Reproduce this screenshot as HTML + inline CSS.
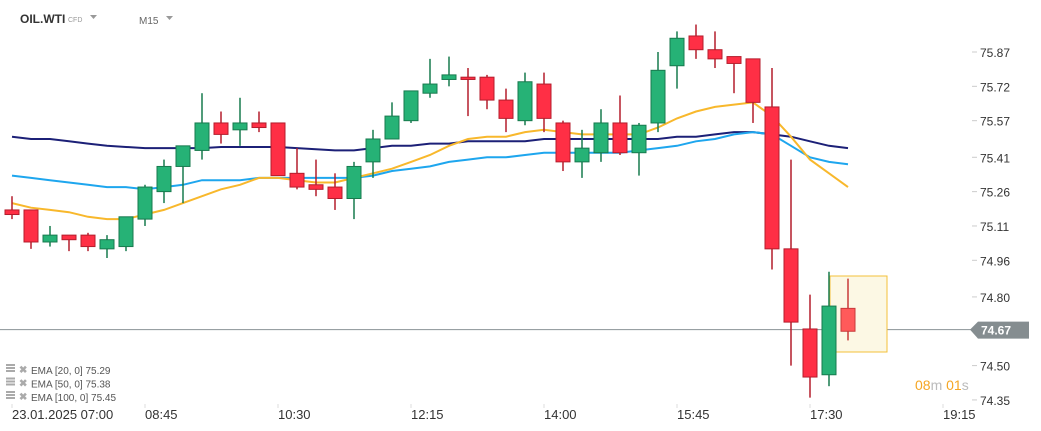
<!DOCTYPE html>
<html><head><meta charset="utf-8"><style>
body{margin:0;background:#fff;width:1041px;height:431px;overflow:hidden;font-family:"Liberation Sans",sans-serif}
svg{display:block}
</style></head><body>
<svg id="chart" width="1041" height="431" xmlns="http://www.w3.org/2000/svg">
<text x="20" y="23" font-size="12" font-weight="bold" fill="#333">OIL.WTI</text>
<text x="68" y="22" font-size="7" fill="#999">CFD</text>
<path d="M90 15 L97 15 L93.5 19 Z" fill="#999"/>
<text x="139" y="24" font-size="10" fill="#666">M15</text>
<path d="M166 16 L173 16 L169.5 20 Z" fill="#999"/>
<g id="marks"></g>
</svg>
<script>
const opens=[75.18,75.18,75.04,75.07,75.07,75.01,75.02,75.14,75.26,75.37,75.44,75.56,75.53,75.56,75.56,75.34,75.29,75.28,75.23,75.39,75.49,75.57,75.69,75.75,75.76,75.76,75.66,75.57,75.73,75.56,75.39,75.43,75.56,75.43,75.56,75.81,75.94,75.88,75.85,75.84,75.63,75.01,74.66,74.46,74.75];
const closes=[75.16,75.04,75.07,75.05,75.02,75.05,75.15,75.28,75.37,75.46,75.56,75.51,75.56,75.54,75.33,75.28,75.27,75.23,75.37,75.49,75.59,75.70,75.73,75.77,75.75,75.66,75.58,75.74,75.58,75.39,75.45,75.56,75.43,75.55,75.79,75.93,75.88,75.84,75.82,75.65,75.01,74.69,74.45,74.76,74.65];
const highs=[75.24,75.18,75.11,75.07,75.08,75.07,75.15,75.29,75.40,75.46,75.69,75.61,75.67,75.61,75.56,75.45,75.40,75.34,75.39,75.53,75.65,75.70,75.84,75.85,75.80,75.77,75.71,75.78,75.78,75.57,75.53,75.62,75.68,75.56,75.87,75.96,75.99,75.96,75.85,75.84,75.80,75.40,74.81,74.91,74.88];
const lows=[75.14,75.01,75.02,75.00,75.00,74.97,75.00,75.11,75.21,75.21,75.40,75.47,75.46,75.52,75.33,75.27,75.24,75.18,75.14,75.32,75.49,75.56,75.67,75.72,75.59,75.62,75.52,75.55,75.52,75.35,75.32,75.39,75.42,75.33,75.52,75.71,75.84,75.80,75.69,75.56,74.92,74.50,74.36,74.41,74.61];
const ema20=[75.21,75.19,75.18,75.17,75.15,75.14,75.14,75.16,75.18,75.21,75.24,75.27,75.29,75.32,75.32,75.31,75.30,75.30,75.32,75.34,75.36,75.39,75.42,75.46,75.49,75.50,75.50,75.52,75.53,75.52,75.51,75.51,75.51,75.51,75.54,75.58,75.61,75.63,75.64,75.65,75.59,75.50,75.40,75.34,75.28];
const ema50=[75.33,75.32,75.31,75.30,75.29,75.28,75.28,75.27,75.28,75.29,75.31,75.31,75.31,75.32,75.32,75.32,75.32,75.32,75.32,75.33,75.35,75.36,75.37,75.39,75.40,75.41,75.41,75.42,75.43,75.43,75.43,75.43,75.43,75.44,75.45,75.46,75.48,75.49,75.51,75.52,75.51,75.46,75.41,75.39,75.38];
const ema100=[75.50,75.49,75.49,75.48,75.47,75.46,75.455,75.45,75.45,75.45,75.45,75.455,75.455,75.455,75.455,75.45,75.445,75.44,75.44,75.45,75.46,75.46,75.47,75.47,75.48,75.48,75.48,75.48,75.49,75.49,75.49,75.49,75.49,75.49,75.49,75.50,75.50,75.51,75.52,75.52,75.51,75.50,75.48,75.46,75.45];
const priceTicks=[75.87,75.72,75.57,75.41,75.26,75.11,74.96,74.80,74.50,74.35];
const timeLabels=["23.01.2025  07:00","08:45","10:30","12:15","14:00","15:45","17:30","19:15"];
const timeIdx=[0,7,14,21,28,35,42,49];
const lastPrice=74.67;
const legend=[["EMA [20,  0] 75.29"],["EMA [50,  0] 75.38"],["EMA [100,  0] 75.45"]];

const NS="http://www.w3.org/2000/svg";
const g=document.getElementById('marks');
function X(i){return 12+19*i;}
function Y(p){return 52+(75.87-p)*228.9;}
function mk(t,a,parent){const e=document.createElementNS(NS,t);for(const k in a)e.setAttribute(k,a[k]);(parent||g).appendChild(e);return e;}

const pl=mk('line',{x1:0,x2:972,y1:Y(lastPrice)+3,y2:Y(lastPrice)+3,stroke:'#8a9296','stroke-width':1});



function line(arr,color,name){
  const d=arr.map((v,i)=>(i?'L':'M')+X(i)+' '+Y(v).toFixed(1)).join(' ');
  const p=mk('path',{d:d,fill:'none',stroke:color,'stroke-width':2});
  
  
}

const n=opens.length;
const box=mk('rect',{x:X(n-1)-18,y:276,width:57,height:76,fill:'#fcf8e4',stroke:'#f3c03a','stroke-width':1});



line(ema100,'#1c2077','ema-100-line');
line(ema50,'#1ea6ee','ema-50-line');
line(ema20,'#f8b82c','ema-20-line');

for(let i=0;i<n;i++){
  const up=closes[i]>=opens[i];
  let fill=up?'#26b276':'#ff2f45', st=up?'#177a4e':'#b41d2c';
  if(i===n-1){fill='#ff5a5a';st='#c83a3a';}
  const cg=mk('g',{});
  
  
  mk('line',{x1:X(i),x2:X(i),y1:Y(highs[i]),y2:Y(lows[i]),stroke:st,'stroke-width':1.5},cg);
  const t=Y(Math.max(opens[i],closes[i])),b=Y(Math.min(opens[i],closes[i]));
  mk('rect',{x:X(i)-7,y:t,width:14,height:Math.max(1.5,b-t),fill:fill,stroke:st,'stroke-width':1},cg);
}

priceTicks.forEach(p=>{
  const t=mk('text',{x:980,y:Y(p)+5,'font-size':12,fill:'#333'});
  t.textContent=p.toFixed(2);
  
  
  mk('line',{x1:972,x2:977,y1:Y(p),y2:Y(p),stroke:'#ccc'});
});
const ty=Y(lastPrice)+3;
const tag=mk('path',{d:`M970 ${ty} L978 ${ty-8} L1029 ${ty-8} L1029 ${ty+9} L978 ${ty+9} Z`,fill:'#858d90'});


const tt=mk('text',{x:981,y:ty+5,'font-size':12,'font-weight':'bold',fill:'#fff'});
tt.textContent=lastPrice.toFixed(2);



const cd=mk('text',{x:915,y:390,'font-size':14});


cd.innerHTML='<tspan fill="#f5a623">08</tspan><tspan fill="#bbb">m </tspan><tspan fill="#f5a623">01</tspan><tspan fill="#bbb">s</tspan>';

timeLabels.forEach((s,k)=>{
  const x=X(timeIdx[k]);
  mk('line',{x1:x,x2:x,y1:404,y2:408,stroke:'#ddd'});
  const t=mk('text',{x:x,y:419,'font-size':13,fill:'#333','xml:space':'preserve'});
  t.textContent=s;
  
  
});

legend.forEach((l,k)=>{
  const y=370+k*13.5;
  const lg=mk('g',{});
  
  
  mk('rect',{x:6,y:y-6,width:9,height:2,fill:'#aaa'},lg);
  mk('rect',{x:6,y:y-3,width:9,height:2,fill:'#aaa'},lg);
  mk('rect',{x:6,y:y,width:9,height:2,fill:'#aaa'},lg);
  const x=mk('text',{x:19,y:y+3,'font-size':10,fill:'#aaa','font-weight':'bold'},lg);x.textContent='✖';
  const t=mk('text',{x:31,y:y+4,'font-size':10,fill:'#555','xml:space':'preserve'},lg);
  t.textContent=l[0];
});
</script>
</body></html>
